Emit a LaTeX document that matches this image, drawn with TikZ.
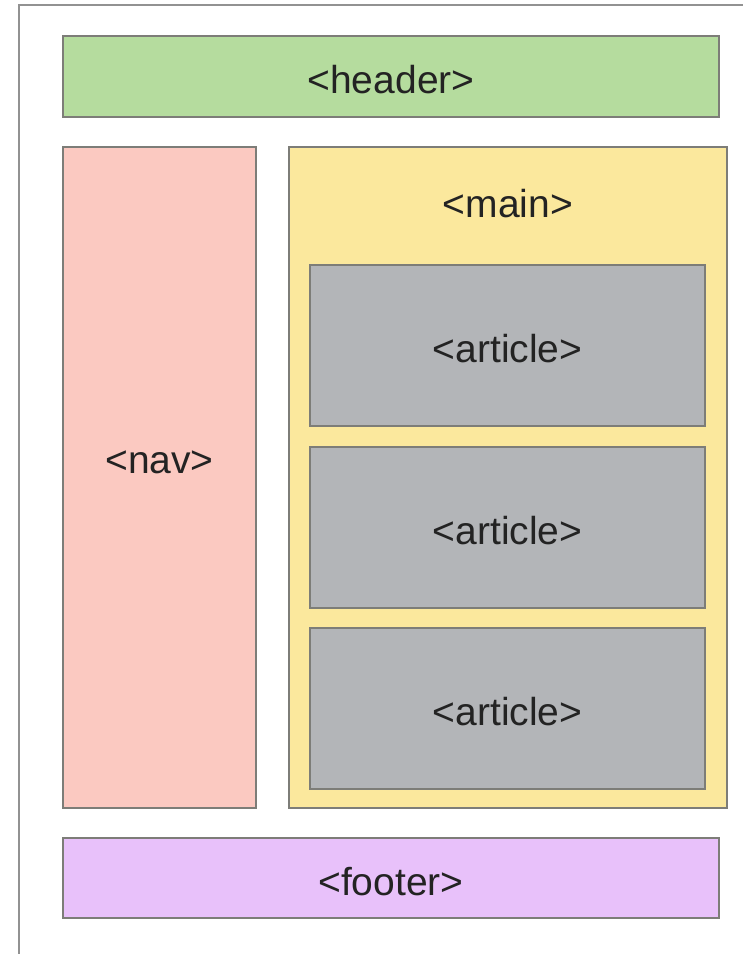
\documentclass[tikz,border=0pt]{standalone}
\usepackage{fontspec}
\setmainfont{Liberation Sans}
\definecolor{hdr}{HTML}{B5DC9E}
\definecolor{navc}{HTML}{FBC9C1}
\definecolor{mainc}{HTML}{FBE89D}
\definecolor{artc}{HTML}{B3B5B8}
\definecolor{ftr}{HTML}{E8C1FA}
\definecolor{frame}{HTML}{929292}
\definecolor{edge}{HTML}{7D7D78}
\definecolor{txt}{HTML}{232323}
\tikzset{
  box/.style={draw=edge, line width=2pt, rectangle, inner sep=0pt},
  lbl/.style={anchor=base, inner sep=0pt, text=txt, font=\fontsize{39}{39}\selectfont},
}
\begin{document}
\begin{tikzpicture}[x=1pt,y=-1pt]
\useasboundingbox (0,0) rectangle (743,954);
\fill[white] (0,0) rectangle (743,954);
\coordinate (fa) at (19,954);
\coordinate (fb) at (19,5);
\coordinate (fc) at (743,5);
\draw[frame, line width=2.2pt] (fa) -- (fb) -- (fc);
\node[box, fill=hdr, minimum width=656pt, minimum height=81pt] (header) at (391,76.5) {};
\node[box, fill=navc, minimum width=193pt, minimum height=661pt] (nav) at (159.5,477.5) {};
\node[box, fill=mainc, minimum width=438pt, minimum height=661pt] (main) at (508,477.5) {};
\node[box, fill=artc, minimum width=395pt, minimum height=161pt] (art1) at (507.5,345.5) {};
\node[box, fill=artc, minimum width=395pt, minimum height=161pt] (art2) at (507.5,527.5) {};
\node[box, fill=artc, minimum width=395pt, minimum height=161pt] (art3) at (507.5,708.5) {};
\node[box, fill=ftr, minimum width=656pt, minimum height=80pt] (footer) at (391,878) {};
\node[lbl] (tHeader) at (391,93) {<header>};
\node[lbl] (tMain) at (508,217) {<main>};
\node[lbl] (tNav) at (159.5,473) {<nav>};
\node[lbl] (tArt1) at (507.5,362) {<article>};
\node[lbl] (tArt2) at (507.5,544) {<article>};
\node[lbl] (tArt3) at (507.5,725) {<article>};
\node[lbl] (tFooter) at (391,895) {<footer>};
\end{tikzpicture}
\end{document}
